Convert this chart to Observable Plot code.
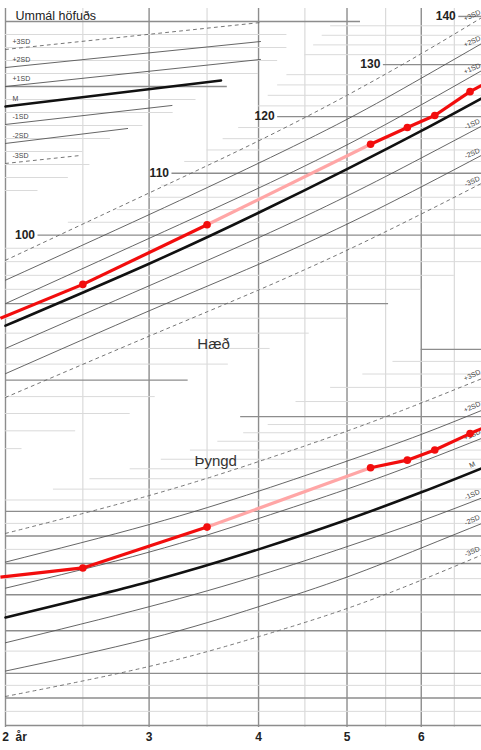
<!DOCTYPE html>
<html>
<head>
<meta charset="utf-8">
<script src="https://cdn.jsdelivr.net/npm/d3@7"></script>
<script src="https://cdn.jsdelivr.net/npm/@observablehq/plot@0.6"></script>
<style>
  body { margin: 0; background: #fff; }
  #chart { position: relative; width: 481px; height: 750px; overflow: hidden; background: #fff; }
  #chart svg { position: absolute; left: 0; top: 0; }
</style>
</head>
<body>
<div id="chart"></div>
<script>
// Age axis is logarithmic in time since conception (age + 0.75 years).
const conception = 0.75;
const sx = a => a + conception;

const curveAges = [2, 3, 4, 5, 6, 7];
const sdNames = ["+3SD", "+2SD", "+1SD", "M", "-1SD", "-2SD", "-3SD"];

// Height reference curves (cm)
const heightP3 = [96.2, 106.7, 115.6, 124.0, 132.2, 140.2];
const heightP2 = [93.3, 103.2, 111.7, 119.5, 127.3, 134.7];
const heightP1 = [90.0, 99.5, 107.5, 114.9, 122.2, 129.2];
const heightM  = [87.0, 95.7, 103.5, 110.7, 117.4, 123.8];
const heightN1 = [84.0, 92.5, 99.6, 106.2, 112.6, 118.6];
const heightN2 = [80.8, 89.0, 95.6, 101.7, 107.7, 113.4];
const heightN3 = [77.9, 85.6, 91.9, 97.7, 103.3, 108.6];

// Weight reference curves (kg)
const weightP3 = [18.2, 21.4, 24.75, 28.2, 31.8, 35.5];
const weightP2 = [16.1, 18.9, 21.8, 24.8, 27.8, 31.0];
const weightP1 = [14.4, 16.8, 19.4, 22.0, 24.7, 27.5];
const weightM  = [12.7, 14.8, 17.0, 19.3, 21.7, 24.2];
const weightN1 = [11.4, 13.3, 15.2, 17.2, 19.2, 21.3];
const weightN2 = [10.1, 11.6, 13.3, 15.1, 17.1, 19.1];
const weightN3 = [9.06, 10.3, 11.7, 13.2, 14.9, 16.7];

// Head circumference reference lines (cm), each over its own age span
const headFrom = [2, 2, 2, 2, 2, 2, 2];
const headTo = [4.02, 4.02, 4.02, 3.63, 3.19, 2.83, 2.48];
const headAtFrom = [52.85, 51.46, 50.0, 48.46, 47.08, 45.62, 44.08];
const headAtTo = [54.92, 53.46, 52.08, 50.46, 48.54, 46.77, 44.69];

// The child's measurements
const visitAges = [1.97, 2.5, 3.5, 5.3, 5.8, 6.2, 6.75, 6.94];
const visitHeights = [88.0, 92.7, 101.6, 115.0, 118.0, 120.2, 124.7, 125.9];
const visitWeights = [15.1, 15.7, 18.7, 24.1, 24.9, 26.0, 27.9, 28.5];

// Grid
const yearTicks = [2, 3, 4, 5, 6];
const halfYears = [2.5, 3.5, 4.5, 5.5, 6.5];

const heightMajor = [80, 90, 100, 110, 120, 130, 140];
const heightMajorFrom = [2, 2, 2.2, 3.19, 4.2, 5.47, 6.57];
const heightMajorTo = [3.33, 5.54, 7, 7, 7, 7, 7];
const heightMinor = [72, 74, 76, 78, 82, 84, 86, 88, 92, 94, 96, 98, 102, 104, 106, 108, 112, 114, 116, 118, 122, 124, 126, 128, 132, 134, 136, 138];
const heightMinorFrom = [2, 2, 2, 2, 2, 2, 2, 2, 2, 2, 2, 2, 2.4, 2.75, 3.0, 3.1, 3.3, 3.5, 3.65, 3.8, 4.0, 4.1, 4.2, 4.3, 4.5, 4.6, 4.7, 4.8];
const heightMinorTo = [2.1, 2.45, 2.85, 3.05, 3.7, 4.12, 4.55, 5.0, 6.0, 6.5, 7, 7, 7, 7, 7, 7, 7, 7, 7, 7, 7, 7, 7, 7, 7, 7, 7, 7];

const weightMajor = [8, 9, 10, 12, 14, 16, 18, 20, 30, 40];
const weightMajorFrom = [2, 2, 2, 2, 2, 2, 2, 2, 3.82, 6.0];
const weightMinor = [8.5, 9.5, 11, 13, 15, 17, 19, 21, 22, 23, 24, 25, 26, 27, 28, 29, 32, 34, 36, 38];
const weightMinorFrom = [2, 2, 2, 2, 2, 2, 2, 2, 2.3, 2.55, 2.85, 3.1, 3.35, 3.6, 3.85, 4.1, 4.4, 4.8, 5.2, 5.6];

const headMajor = [55, 50];
const headMajorTo = [5.17, 3.69];
const headMinor = [54, 53, 52, 51, 49, 48, 47, 46, 45, 44, 43, 42];
const headMinorTo = [4.3, 4.3, 4.2, 4.0, 3.4, 3.2, 2.95, 2.7, 2.5, 2.55, 2.4, 2.2];

// ---------------------------------------------------------------------
const lastAge = 7;
const font = "'Liberation Sans', Arial, sans-serif";
const frame = {
  width: 481, height: 750,
  marginLeft: 0, marginRight: 0, marginTop: 8, marginBottom: 23,
  style: { background: "transparent", fontFamily: font }
};
const xScale = { type: "log", domain: [sx(1.9705), sx(6.938)], axis: null };

const toCurves = (series) => series.flatMap((vals, i) =>
  vals.map((v, j) => ({ name: sdNames[i], age: curveAges[j], v })));
const segs = (values, from, to) => values.map((v, i) => ({ v, from: from[i], to: to[i] }));

const heightCurves = toCurves([heightP3, heightP2, heightP1, heightM, heightN1, heightN2, heightN3]);
const weightCurves = toCurves([weightP3, weightP2, weightP1, weightM, weightN1, weightN2, weightN3]);
const headLines = sdNames.flatMap((name, i) => [
  { name, age: headFrom[i], v: headAtFrom[i] },
  { name, age: headTo[i], v: headAtTo[i] }
]);

const visits = (vals) => visitAges.map((age, i) => ({ age, v: vals[i] }));
const pairs = (pts) => pts.slice(1).map((p, i) => ({ a: pts[i], b: p, long: p.age - pts[i].age > 1 }));
const shown = (pts) => pts.filter(p => p.age > 2 && p.age < 6.9);

const gridDark = "#8d8d8d", gridLight = "#dadada";
const darkRules = (data) => Plot.ruleY(data, { y: "v", x1: d => sx(d.from), x2: d => sx(d.to), stroke: gridDark, strokeWidth: 1.4 });
const lightRules = (data) => Plot.ruleY(data, { y: "v", x1: d => sx(d.from), x2: d => sx(d.to), stroke: gridLight, strokeWidth: 1 });

function refCurves(curves) {
  const thin = curves.filter(d => d.name !== "M" && !d.name.includes("3"));
  const dashed = curves.filter(d => d.name.includes("3"));
  const mean = curves.filter(d => d.name === "M");
  return [
    Plot.line(thin, { x: d => sx(d.age), y: "v", z: "name", curve: "natural", stroke: "#555", strokeWidth: 0.9 }),
    Plot.line(dashed, { x: d => sx(d.age), y: "v", z: "name", curve: "natural", stroke: "#666", strokeWidth: 0.9, strokeDasharray: "3,4" }),
    Plot.line(mean, { x: d => sx(d.age), y: "v", curve: "natural", stroke: "#111", strokeWidth: 2.6 })
  ];
}

function track(pts) {
  const p = pairs(pts);
  return [
    Plot.link(p.filter(d => d.long), { x1: d => sx(d.a.age), y1: d => d.a.v, x2: d => sx(d.b.age), y2: d => d.b.v, stroke: "#ffa6a6", strokeWidth: 3.2 }),
    Plot.link(p.filter(d => !d.long), { x1: d => sx(d.a.age), y1: d => d.a.v, x2: d => sx(d.b.age), y2: d => d.b.v, stroke: "#f20d0d", strokeWidth: 3.2 }),
    Plot.dot(shown(pts), { x: d => sx(d.age), y: "v", r: 3.8, fill: "#f20d0d" })
  ];
}

const endLabels = (curves, skipM, dy) => Plot.text(
  curves.filter(d => d.age === lastAge && !(skipM && d.name === "M")),
  { x: d => sx(d.age), y: "v", text: "name", dx: -13, dy, rotate: -24, fontSize: 7, fill: "#444" });

// Weight layer (bottom): year lines, weight grid, curves, age labels
const weightPlot = Plot.plot({
  ...frame,
  x: xScale,
  y: { type: "log", domain: [7.933, 172.0], axis: null },
  marks: [
    Plot.ruleX(halfYears, { x: sx, stroke: gridLight, strokeWidth: 1.2 }),
    Plot.ruleX(yearTicks, { x: sx, stroke: gridDark, strokeWidth: 1.4 }),
    lightRules(segs(weightMinor, weightMinorFrom, weightMinor.map(() => lastAge))),
    darkRules(segs(weightMajor, weightMajorFrom, weightMajor.map(() => lastAge))),
    ...refCurves(weightCurves),
    endLabels(weightCurves, false, -2),
    ...track(visits(visitWeights)),
    Plot.text(["Þyngd"], { x: sx(3.58), y: 24.8, text: d => d, fontSize: 15, fill: "#333" }),
    Plot.text(yearTicks, { x: sx, frameAnchor: "bottom", dy: 13, text: d => String(d), fontSize: 12, fontWeight: "bold", fill: "#222" }),
    Plot.text(["år"], { x: sx(2), frameAnchor: "bottom", dy: 13, dx: 10, text: d => d, textAnchor: "start", fontSize: 12, fontWeight: "bold", fill: "#222" })
  ]
});

// Head circumference inset (top left)
const headPlot = Plot.plot({
  ...frame,
  x: xScale,
  y: { type: "linear", domain: [0.692, 56.0], axis: null },
  marks: [
    lightRules(segs(headMinor, headMinor.map(() => 2), headMinorTo)),
    darkRules(segs(headMajor, headMajor.map(() => 2), headMajorTo)),
    Plot.line(headLines.filter(d => d.name !== "M" && !d.name.includes("3")), { x: d => sx(d.age), y: "v", z: "name", stroke: "#555", strokeWidth: 0.9 }),
    Plot.line(headLines.filter(d => d.name.includes("3")), { x: d => sx(d.age), y: "v", z: "name", stroke: "#666", strokeWidth: 0.9, strokeDasharray: "3,4" }),
    Plot.line(headLines.filter(d => d.name === "M"), { x: d => sx(d.age), y: "v", stroke: "#111", strokeWidth: 2.6 }),
    Plot.text(headLines.filter(d => d.age === 2), { x: d => sx(d.age), y: "v", text: "name", dx: 7, dy: -8, textAnchor: "start", fontSize: 7, fill: "#444" }),
    Plot.text(["Ummál höfuðs"], { x: sx(2), y: 55.46, text: d => d, dx: 10, textAnchor: "start", fontSize: 12.5, fill: "#222" })
  ]
});

// Height layer (top)
const heightMajorSegs = segs(heightMajor, heightMajorFrom, heightMajorTo);
const heightPlot = Plot.plot({
  ...frame,
  x: xScale,
  y: { type: "log", domain: [46.88, 141.72], axis: null },
  marks: [
    lightRules(segs(heightMinor, heightMinorFrom, heightMinorTo)),
    darkRules(heightMajorSegs),
    Plot.text(heightMajorSegs.filter(d => d.from > 2), { x: d => sx(d.from), y: "v", text: d => String(d.v), dx: -3, textAnchor: "end", fontSize: 12, fontWeight: "bold", fill: "#222" }),
    ...refCurves(heightCurves),
    endLabels(heightCurves, true, 0),
    ...track(visits(visitHeights)),
    Plot.text(["Hæð"], { x: sx(3.56), y: 84.6, text: d => d, fontSize: 15, fill: "#333" })
  ]
});

const chart = document.getElementById("chart");
chart.append(weightPlot, headPlot, heightPlot);
</script>
</body>
</html>
